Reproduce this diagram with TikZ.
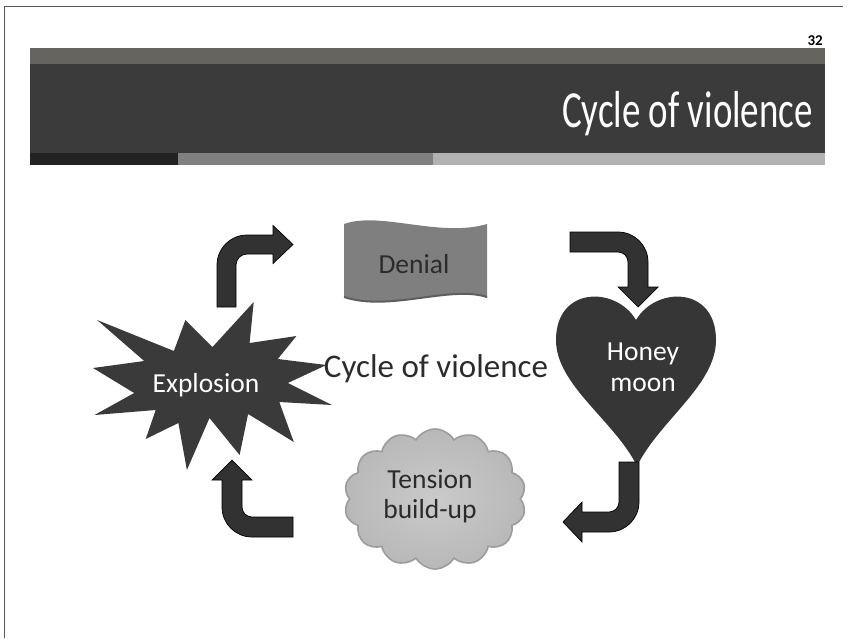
\documentclass[tikz,border=0pt]{standalone}
\usepackage{fontspec}
\setmainfont{Carlito}
\usetikzlibrary{shapes.symbols}
\definecolor{frameline}{HTML}{555555}
\definecolor{headtop}{HTML}{65645F}
\definecolor{headdark}{HTML}{3B3B3B}
\definecolor{stripA}{HTML}{222222}
\definecolor{stripB}{HTML}{808080}
\definecolor{stripC}{HTML}{B2B2B2}
\definecolor{arrowfill}{HTML}{323232}
\definecolor{burstfill}{HTML}{3A3A3A}
\definecolor{heartfill}{HTML}{363636}
\definecolor{wavefill}{HTML}{7F7F7F}
\definecolor{waveedge}{HTML}{5E5E5E}
\definecolor{cloudin}{HTML}{CACACA}
\definecolor{cloudout}{HTML}{B8B8B8}
\definecolor{cloudedge}{HTML}{9C9C9C}
\definecolor{textdark}{HTML}{2B2B2B}
\tikzset{
  blockarrow/.style={fill=arrowfill, draw=black, line width=0.7pt, line join=miter},
  shapetext/.style={font=\fontsize{27.5}{32}\selectfont, inner sep=0pt, anchor=base},
  darklabel/.style={shapetext, text=textdark},
  lightlabel/.style={shapetext, text=white},
}
\begin{document}
\begin{tikzpicture}[x=1pt,y=-1pt]
\useasboundingbox (0,0) rectangle (848,638);
% frame
\coordinate (f1) at (4,638);
\coordinate (f2) at (4,6);
\coordinate (f3) at (843,6);
\draw[frameline, line width=1pt] (f1) -- (f2) -- (f3);
% header
\fill[headtop] (30,48) rectangle (825,64);
\fill[headdark] (30,64) rectangle (825,153);
\fill[stripA] (30,153) rectangle (178,165);
\fill[stripB] (178,153) rectangle (433,165);
\fill[stripC] (433,153) rectangle (825,165);
\node[font=\bfseries\fontsize{15}{17}\selectfont, text=black, inner sep=0pt, anchor=base east] (pagenum) at (823,45) {32};
\node[font=\fontsize{52}{60}\selectfont, text=white, inner sep=0pt, anchor=base east] (title) at (813,127) {\scalebox{0.71}[1]{Cycle of violence}};

% Denial wave
\fill[wavefill] (344,224) .. controls (380,211) and (440,238) .. (487,224)
  -- (487,297) .. controls (450,285) and (390,312) .. (344,297) -- cycle;
\draw[waveedge, line width=2pt] (487,297) .. controls (450,285) and (390,312) .. (344,297);
\node[darklabel] (denial) at (414,273) {Denial};

% Heart
\fill[heartfill] (636,320) .. controls (656,286) and (716,286) .. (716,340)
  .. controls (716,385) and (660,420) .. (637,466)
  .. controls (614,420) and (556,385) .. (556,340)
  .. controls (556,286) and (616,286) .. (636,320) -- cycle;
\node[lightlabel] (honey) at (643,360) {Honey};
\node[lightlabel] (moon) at (643,391) {moon};

% Cloud
\node[cloud, cloud puffs=14, cloud puff arc=120, aspect=1.3, minimum width=182pt, minimum height=140pt,
      inner color=cloudin, outer color=cloudout, draw=cloudedge, line width=1.6pt, inner sep=0pt] (tension) at (435,499) {};
\node[darklabel] (tensionA) at (430,488) {Tension};
\node[darklabel] (tensionB) at (430,518) {build-up};

% Explosion burst
\fill[burstfill] (212.5,347) -- (253.7,302) -- (249.6,343) -- (296.4,336) -- (277.8,359)
  -- (326.4,365) -- (287.8,383) -- (332,405) -- (279.3,402) -- (293.8,442)
  -- (248.1,414) -- (239.6,455) -- (209.5,418) -- (186.9,470) -- (178.4,423)
  -- (145.7,439) -- (155.7,410) -- (94.5,415) -- (134.2,393) -- (93,368)
  -- (144.2,361) -- (97.1,320) -- (173.9,351) -- (185.4,320) -- cycle;
\node[lightlabel] (explosion) at (206,392) {Explosion};

% centre label
\node[font=\fontsize{33}{38}\selectfont, text=textdark, inner sep=0pt, anchor=base] (cycle) at (436,377) {Cycle of violence};

% Bent arrows
% Explosion -> Denial
\filldraw[blockarrow] (217,307) -- (217,265) .. controls (217,248.4) and (230.4,235) .. (247,235)
  -- (273,235) -- (273,225.5) -- (293,244.5) -- (273,263.5) -- (273,254) -- (247,254)
  .. controls (240.9,254) and (236,258.9) .. (236,265) -- (236,307) -- cycle;
% Denial -> Honeymoon
\filldraw[blockarrow] (570,232) -- (618,232) .. controls (634.6,232) and (648,245.4) .. (648,262)
  -- (648,287) -- (658,287) -- (638,307) -- (618,287) -- (628,287) -- (628,262)
  .. controls (628,256.5) and (623.5,252) .. (618,252) -- (570,252) -- cycle;
% Honeymoon -> Tension
\filldraw[blockarrow] (619,462) -- (639,462) -- (639,502) .. controls (639,518.6) and (625.6,532) .. (609,532)
  -- (582,532) -- (582,542) -- (563,522) -- (582,502) -- (582,512) -- (609,512)
  .. controls (614.5,512) and (619,507.5) .. (619,502) -- cycle;
% Tension -> Explosion
\filldraw[blockarrow] (293,537) -- (252,537) .. controls (235.4,537) and (222,523.6) .. (222,507)
  -- (222,480) -- (212,480) -- (232,460) -- (252,480) -- (242,480) -- (242,507)
  .. controls (242,512.5) and (246.5,517) .. (252,517) -- (293,517) -- cycle;
\end{tikzpicture}
\end{document}
